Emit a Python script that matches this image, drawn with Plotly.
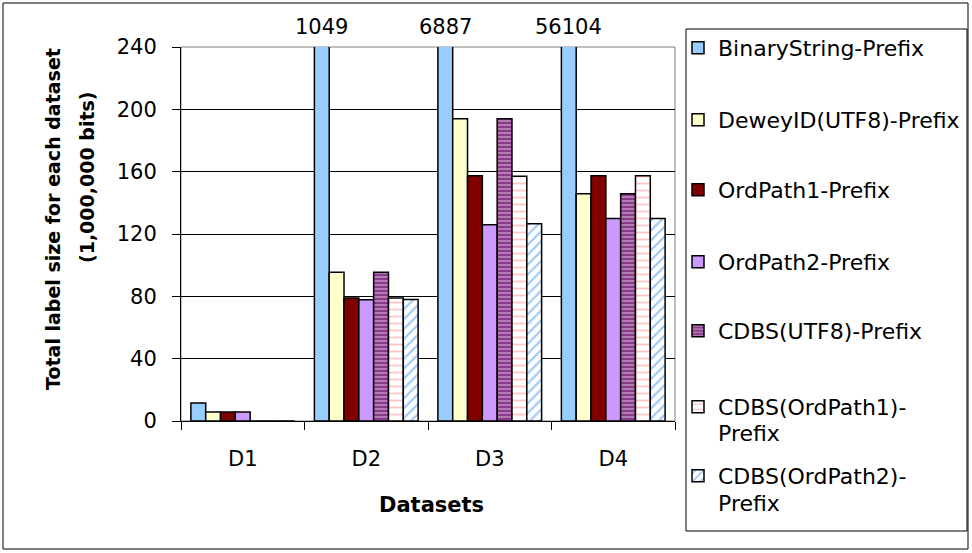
import plotly.graph_objects as go

# Total label size per dataset, in units of 1,000,000 bits
datasets = ["D1", "D2", "D3", "D4"]
series_names = [
    "BinaryString-Prefix",
    "DeweyID(UTF8)-Prefix",
    "OrdPath1-Prefix",
    "OrdPath2-Prefix",
    "CDBS(UTF8)-Prefix",
    "CDBS(OrdPath1)-<br>Prefix",
    "CDBS(OrdPath2)-<br>Prefix",
]
binary_string = [11.6, 1049, 6887, 56104]
dewey_utf8 = [5.8, 95.5, 194, 145.8]
ordpath1 = [5.8, 79, 157.3, 157.3]
ordpath2 = [5.8, 77.8, 126, 130]
cdbs_utf8 = [0, 95.5, 194, 145.8]
cdbs_ordpath1 = [0, 79, 157, 157.3]
cdbs_ordpath2 = [0, 78, 126.5, 130]
all_values = [binary_string, dewey_utf8, ordpath1, ordpath2,
              cdbs_utf8, cdbs_ordpath1, cdbs_ordpath2]

y_max = 240
y_ticks = [0, 40, 80, 120, 160, 200, 240]

fills = [
    dict(color="#99CCFF"),
    dict(color="#FFFFCC"),
    dict(color="#800000"),
    dict(color="#CC99FF"),
    dict(color="#8A3A8A", pattern=dict(shape="-", fgcolor="#E8C8E8", size=4, solidity=0.45)),
    dict(color="#FFFFFF", pattern=dict(shape="-", fgcolor="#FF8C8C", size=7, solidity=0.25)),
    dict(color="#FFFFFF", pattern=dict(shape="/", fgcolor="#3A8CF0", size=7, solidity=0.3)),
]

FONT = "DejaVu Sans, Arial, sans-serif"

# geometry of the plot area in pixels
W, H = 972, 553
L, R, T, B = 181, 297, 47, 132
pw, ph = W - L - R, H - T - B


def px_x(p):
    return (p - L) / pw


def px_y(p):
    return (H - B - p) / ph


# vertical centre (px) of the first text line of each legend entry
legend_centres = [48, 120, 190, 262, 331, 407, 476]
legend_left = 678
legend_wrap_left = 716
legend_line_step = 27
LEGEND_FONT = dict(family=FONT, size=22, color="black")

fig = go.Figure()
legend_layout = {}
annotations = []
for i, (name, vals, fill) in enumerate(zip(series_names, all_values, fills)):
    marker = dict(fill)
    marker["line"] = dict(color="black", width=1.5)
    lg = "legend" if i == 0 else f"legend{i + 1}"
    lines = name.split("<br>")
    fig.add_trace(go.Bar(
        x=datasets, y=vals, name=lines[0], marker=marker, legend=lg,
    ))
    legend_layout[lg] = dict(
        x=px_x(legend_left), y=px_y(legend_centres[i]),
        xanchor="left", yanchor="middle",
        borderwidth=0, bgcolor="rgba(0,0,0,0)",
        font=LEGEND_FONT, itemwidth=30,
    )
    # wrapped continuation lines of a legend entry
    for j, extra in enumerate(lines[1:], start=1):
        annotations.append(dict(
            x=px_x(legend_wrap_left), y=px_y(legend_centres[i] + j * legend_line_step),
            xref="paper", yref="paper", text=extra, showarrow=False,
            xanchor="left", yanchor="middle", font=LEGEND_FONT,
        ))

bargap = 0.16
n_series = len(series_names)
bar_w = (1 - bargap) / n_series
first_offset = -(1 - bargap) / 2 + bar_w / 2

# values of bars that run off the top of the axis
for k, v in enumerate(binary_string):
    if v > y_max:
        annotations.append(dict(
            x=k + first_offset, y=y_max, xref="x", yref="y",
            text=str(v), showarrow=False, yanchor="bottom", yshift=6,
            font=dict(family=FONT, size=21, color="black"),
        ))

annotations += [
    dict(x=px_x(53), y=px_y(219), xref="paper", yref="paper",
         text="<b>Total label size for each dataset</b>",
         textangle=-90, showarrow=False, xanchor="center", yanchor="middle",
         font=dict(family=FONT, size=19, color="black")),
    dict(x=px_x(87), y=px_y(178), xref="paper", yref="paper",
         text="<b>(1,000,000 bits)</b>",
         textangle=-90, showarrow=False, xanchor="center", yanchor="middle",
         font=dict(family=FONT, size=19, color="black")),
    dict(x=px_x(431), y=px_y(505), xref="paper", yref="paper",
         text="<b>Datasets</b>", showarrow=False, xanchor="center", yanchor="middle",
         font=dict(family=FONT, size=21, color="black")),
]

shapes = [
    # plot area frame
    dict(type="rect", xref="paper", yref="paper", x0=0, x1=1, y0=0, y1=1,
         line=dict(color="#808080", width=1), layer="below"),
    # outer chart frame
    dict(type="rect", xref="paper", yref="paper",
         x0=px_x(3), x1=px_x(968), y0=px_y(549), y1=px_y(3),
         line=dict(color="black", width=1)),
    # legend frame
    dict(type="rect", xref="paper", yref="paper",
         x0=px_x(686), x1=px_x(967), y0=px_y(531), y1=px_y(29),
         line=dict(color="black", width=1)),
]

fig.update_layout(
    width=W, height=H,
    margin=dict(l=L, r=R, t=T, b=B, pad=0, autoexpand=False),
    paper_bgcolor="white", plot_bgcolor="white",
    barmode="group", bargap=bargap, bargroupgap=0,
    font=dict(family=FONT, size=21, color="black"),
    showlegend=True,
    annotations=annotations,
    shapes=shapes,
    **legend_layout,
)

fig.update_xaxes(
    type="category", showline=True, linecolor="black", linewidth=1,
    ticks="outside", tickson="boundaries", ticklen=8, tickcolor="black",
    tickfont=dict(family=FONT, size=21), showgrid=False,
    ticklabelstandoff=19,
)
fig.update_yaxes(
    range=[0, y_max], tickvals=y_ticks, showline=True, linecolor="black",
    linewidth=1, ticks="outside", ticklen=8, tickcolor="black",
    showgrid=True, gridcolor="black", gridwidth=1, zeroline=False,
    tickfont=dict(family=FONT, size=21), ticklabelstandoff=11,
)

fig.write_html("out.html")
